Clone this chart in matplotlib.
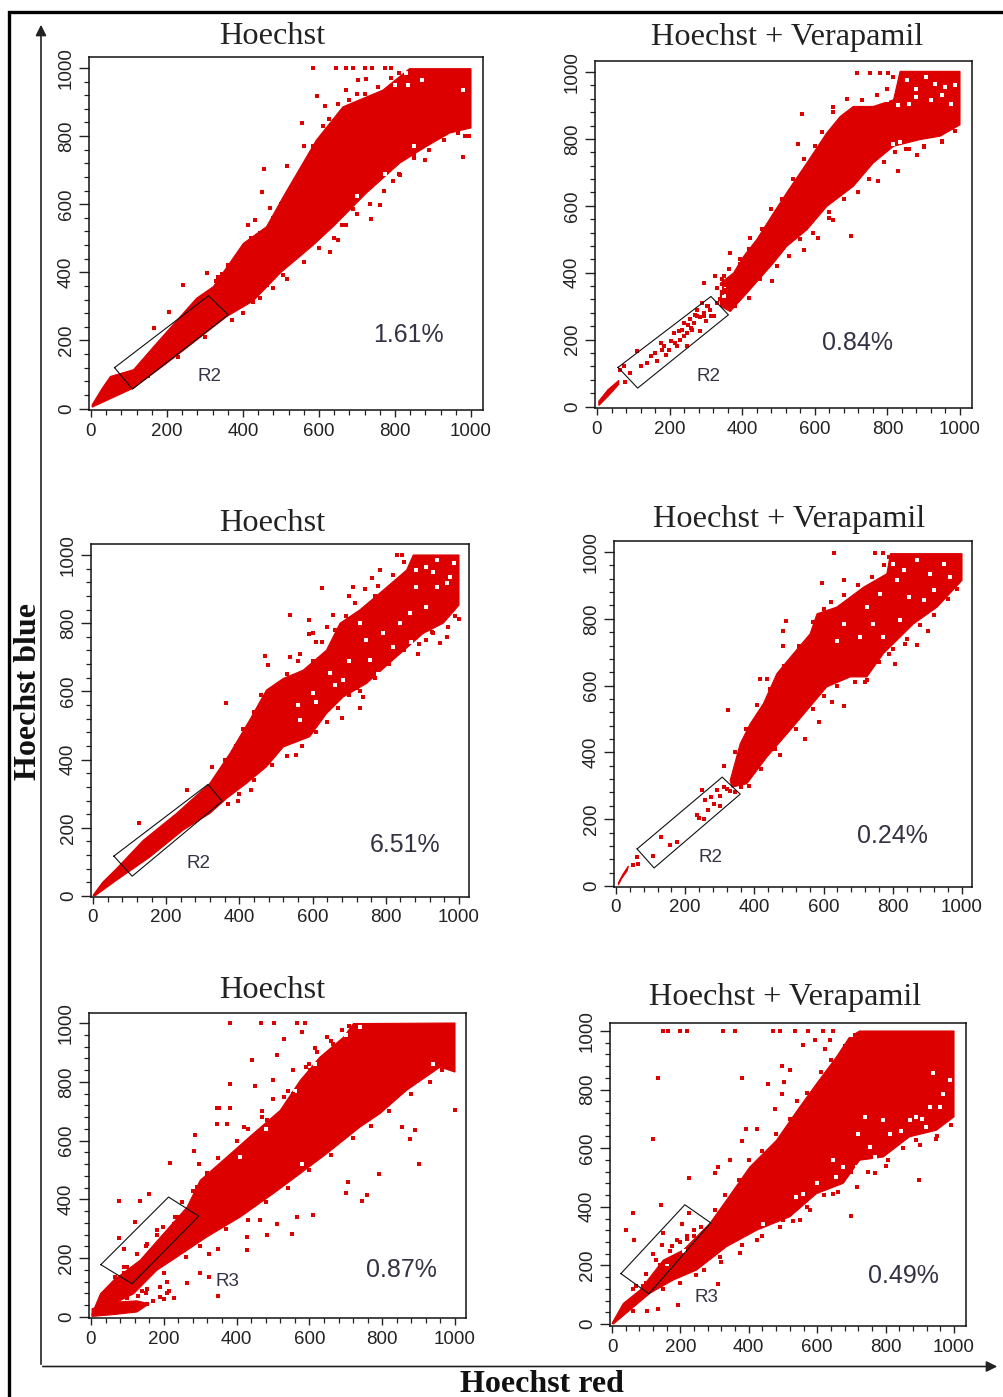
import numpy as np
import matplotlib
matplotlib.use("Agg")
import matplotlib.pyplot as plt
from matplotlib.ticker import MultipleLocator

W, H = 1004, 1397
RED = "#dc0000"
INK = "#222222"

tick_values = [0, 200, 400, 600, 800, 1000]
panel_titles = ["Hoechst", "Hoechst + Verapamil"] * 3
panel_percent = ["1.61%", "0.84%", "6.51%", "0.24%", "0.87%", "0.49%"]
panel_gate_names = ["R2", "R2", "R2", "R2", "R3", "R3"]

# ---- panel 1 ----
p1_up_x = [3, 30, 51, 112, 173, 278, 322, 401, 462, 506, 593, 663, 768, 838, 1000]
p1_up_y = [11, 60, 94, 114, 192, 324, 358, 485, 534, 622, 788, 886, 935, 998, 998]
p1_lo_x = [3, 112, 217, 357, 427, 500, 532, 585, 638, 725, 813, 883, 944, 1000]
p1_lo_y = [4, 60, 148, 270, 316, 400, 430, 480, 535, 633, 721, 770, 809, 824]
p1_pts_x = [585, 646, 672, 690, 721, 594, 554, 615, 454, 449, 515, 414, 432, 242, 305, 204, 166, 760, 736, 629, 651, 979, 996, 878, 506, 462, 427, 795, 813, 672, 703, 725, 740, 775, 790, 430, 560, 610, 700, 850, 900, 335, 380, 470, 545, 572, 660, 690,
            330, 345, 360, 390, 420, 445, 480, 500, 520, 545, 565, 585, 610, 625, 650, 680, 720, 755, 790, 810,
            150, 230, 300, 370, 400, 445, 480, 515, 560, 600, 640, 670, 700, 735, 770, 810, 850, 890, 930, 965, 985]
p1_pts_y = [1000, 1000, 1000, 1000, 1000, 917, 838, 887, 703, 635, 711, 540, 554, 363, 398, 283, 236, 598, 556, 459, 494, 738, 801, 731, 393, 363, 314, 667, 687, 936, 966, 968, 1000, 1000, 1000, 470, 772, 830, 925, 745, 792, 385, 425, 590, 650, 680, 540, 585,
            375, 395, 420, 445, 500, 515, 560, 600, 640, 680, 720, 770, 830, 850, 895, 905, 925, 945, 970, 985,
            95, 150, 210, 260, 280, 325, 355, 380, 430, 470, 500, 540, 570, 600, 640, 690, 735, 760, 790, 810, 800]
p1_gap_x = [700, 800, 750, 830, 870, 670, 640, 720, 850, 835, 775, 700, 980]
p1_gap_y = [930, 950, 960, 985, 965, 940, 500, 590, 770, 950, 690, 625, 935]
p1_gate_x = [62, 309, 361, 109, 62]
p1_gate_y = [120, 331, 275, 57, 120]

# ---- panel 2 ----
p2_up_x = [340, 376, 404, 440, 486, 528, 578, 633, 670, 706, 761, 817, 835, 1000]
p2_up_y = [369, 399, 449, 499, 578, 648, 728, 818, 867, 897, 897, 917, 1002, 1002]
p2_lo_x = [340, 367, 413, 486, 523, 578, 633, 706, 761, 817, 890, 945, 1000]
p2_lo_y = [300, 284, 339, 429, 479, 528, 598, 658, 728, 778, 798, 808, 842]
p2_low_x = [5, 30, 60, 60, 30, 5]
p2_low_y = [16, 50, 78, 66, 30, 3]
p2_pts_x = [78, 92, 138, 165, 179, 197, 211, 229, 248, 239, 266, 284, 275, 312, 330, 349, 294, 326, 367, 110, 161, 220, 64, 75, 205, 248, 294, 321, 303, 255, 270, 300, 290, 315, 190, 175, 225, 240, 258, 283, 564, 555, 649, 716, 752, 780, 803, 881, 830, 775, 651, 610, 569, 482, 422, 345, 360, 395, 330, 850, 900, 950, 640, 700,
            345, 365, 395, 420, 455, 480, 510, 540, 570, 600, 620, 650, 690, 730, 770, 800, 815, 360, 350,
            380, 420, 450, 495, 530, 560, 595, 640, 680, 720, 750, 790, 820, 860, 900, 950, 985,
            120, 150, 185, 215, 235, 250, 262, 275, 295, 305, 340]
p2_pts_y = [72, 100, 130, 135, 169, 169, 219, 199, 219, 249, 249, 269, 289, 289, 309, 349, 369, 389, 459, 166, 160, 180, 110, 122, 195, 180, 280, 270, 300, 262, 275, 255, 310, 272, 155, 190, 226, 212, 235, 225, 874, 786, 895, 997, 997, 997, 997, 753, 703, 673, 558, 503, 469, 374, 503, 340, 375, 425, 355, 770, 780, 790, 565, 510,
            380, 410, 440, 470, 530, 590, 620, 680, 740, 780, 820, 880, 920, 915, 930, 950, 985, 350, 390,
            300, 325, 380, 420, 450, 500, 520, 580, 620, 640, 680, 730, 760, 770, 775, 795, 825,
            120, 150, 180, 190, 230, 245, 230, 270, 270, 300, 320]
p2_gap_x = [855, 880, 905, 930, 960, 880, 920, 950, 985, 860, 830, 800, 815, 835, 660, 620, 700, 590, 975, 350, 340, 355]
p2_gap_y = [975, 950, 985, 965, 955, 925, 915, 930, 960, 905, 900, 915, 785, 790, 565, 520, 620, 480, 905, 330, 355, 350]
p2_gate_x = [58, 314, 362, 112, 58]
p2_gate_y = [117, 329, 274, 55, 117]

# ---- panel 3 ----
p3_up_x = [0, 27, 64, 137, 228, 319, 374, 428, 474, 520, 574, 638, 675, 729, 793, 857, 875, 1000]
p3_up_y = [2, 41, 80, 163, 242, 330, 418, 516, 604, 638, 662, 721, 800, 839, 897, 956, 1000, 1000]
p3_lo_x = [5, 64, 155, 246, 319, 365, 419, 474, 520, 592, 638, 684, 747, 830, 902, 957, 1000]
p3_lo_y = [0, 46, 114, 193, 242, 286, 330, 379, 437, 467, 535, 584, 623, 702, 770, 800, 853]
p3_pts_x = [363, 469, 479, 627, 711, 538, 591, 591, 655, 830, 843, 784, 761, 743, 126, 257, 326, 397, 433, 556, 679, 729, 738, 889, 966, 948, 1000, 911, 565, 538, 600, 700, 770, 850, 925, 610, 640, 720,
            340, 360, 390, 410, 440, 460, 530, 560, 600, 625, 660, 690, 715, 750, 780, 820, 850, 870,
            370, 400, 440, 490, 530, 570, 610, 640, 670, 700, 730, 770, 810, 850, 890, 930, 970, 990]
p3_pts_y = [567, 704, 677, 902, 907, 824, 809, 768, 824, 1000, 1000, 956, 934, 900, 215, 310, 379, 279, 310, 413, 522, 550, 584, 711, 760, 741, 811, 750, 711, 702, 770, 880, 880, 925, 775, 745, 790, 610,
            350, 400, 440, 490, 540, 590, 650, 690, 690, 745, 780, 820, 860, 850, 910, 940, 980, 960,
            270, 300, 340, 385, 410, 440, 480, 510, 550, 590, 600, 640, 680, 720, 740, 770, 790, 820]
p3_gap_x = [883, 911, 939, 966, 883, 839, 793, 747, 729, 647, 602, 565, 684, 757, 820, 911, 975, 939, 866, 985, 700, 560, 610, 660, 780, 870, 930]
p3_gap_y = [956, 966, 985, 917, 907, 800, 770, 750, 800, 653, 594, 516, 633, 692, 731, 848, 936, 907, 829, 976, 690, 560, 570, 620, 650, 745, 950]
p3_gate_x = [57, 314, 353, 107, 57]
p3_gate_y = [117, 327, 278, 58, 117]

# ---- panel 4 ----
p4_up_x = [330, 359, 388, 426, 465, 513, 561, 581, 638, 716, 783, 793, 1000]
p4_up_y = [316, 426, 486, 546, 636, 696, 755, 815, 835, 895, 935, 995, 995]
p4_lo_x = [335, 378, 436, 503, 552, 609, 677, 725, 773, 860, 928, 1000]
p4_lo_y = [296, 306, 386, 466, 526, 596, 626, 626, 696, 785, 835, 915]
p4_low_x = [7, 20, 36, 32, 16, 7]
p4_low_y = [10, 35, 60, 45, 22, 3]
p4_pts_x = [50, 65, 62, 106, 129, 156, 176, 233, 253, 267, 282, 257, 248, 291, 301, 311, 325, 311, 320, 631, 749, 773, 595, 658, 492, 484, 484, 415, 436, 407, 474, 547, 588, 658, 624, 805, 870, 902, 836, 725, 788, 711, 240, 275, 300, 330, 345, 360,
            345, 375, 405, 445, 485, 530, 570, 600, 620, 660, 700, 740, 775, 790,
            385, 420, 460, 520, 570, 600, 640, 690, 720, 760, 800, 840, 880, 920, 960, 985]
p4_pts_y = [62, 67, 87, 89, 147, 122, 132, 212, 202, 227, 247, 256, 286, 286, 241, 296, 526, 358, 291, 998, 998, 998, 907, 915, 792, 762, 719, 619, 619, 541, 391, 441, 491, 538, 551, 666, 722, 763, 725, 618, 696, 636, 205, 265, 270, 285, 280, 295,
            400, 470, 500, 590, 660, 720, 790, 830, 850, 870, 900, 925, 960, 985,
            300, 350, 410, 470, 530, 570, 600, 610, 610, 670, 710, 740, 780, 810, 860, 890]
p4_gap_x = [802, 831, 870, 947, 908, 812, 966, 725, 773, 744, 658, 638, 706, 846, 889, 764, 918, 822]
p4_gap_y = [965, 945, 975, 965, 935, 915, 925, 835, 745, 785, 785, 735, 745, 865, 855, 875, 885, 795]
p4_gate_x = [61, 307, 359, 110, 61]
p4_gate_y = [111, 326, 275, 54, 111]

# ---- panel 5 ----
p5_up_x = [3, 26, 62, 135, 199, 264, 300, 373, 446, 520, 575, 629, 694, 721, 1000]
p5_up_y = [11, 79, 125, 193, 283, 374, 465, 544, 624, 703, 805, 884, 952, 998, 1000]
p5_lo_x = [3, 62, 117, 181, 236, 318, 410, 501, 575, 648, 739, 794, 867, 959, 1000]
p5_lo_y = [2, 45, 79, 159, 204, 272, 340, 420, 488, 556, 646, 692, 771, 850, 833]
p5_low_x = [3, 60, 126, 160, 126, 60, 3]
p5_low_y = [28, 50, 55, 45, 17, 8, 2]
p5_pts_x = [382, 467, 504, 565, 588, 442, 382, 451, 346, 352, 382, 373, 346, 287, 282, 218, 296, 76, 135, 160, 78, 122, 90, 511, 529, 579, 616, 501, 556, 1000, 890, 876, 902, 854, 790, 707, 701, 758, 744, 611, 552, 565, 511, 465, 428, 483, 428, 350, 323, 300, 323, 350, 264, 209, 227, 190, 190, 154, 154, 392, 355, 318, 291, 419, 483, 538, 556, 602, 648, 666, 199, 227, 236, 181, 154, 126, 90, 67, 147, 117, 172, 240, 255, 270, 530, 600, 470,
            100, 150, 180, 230, 250, 280, 320, 350, 400, 430, 470, 500, 540, 590, 620, 660, 690, 710,
            140, 200, 260, 300, 370, 430, 480, 540, 600, 660, 720, 770, 820, 880, 930, 965, 985,
            200, 210, 170, 130, 100, 150, 215, 90, 110, 60, 70, 130, 80]
p5_pts_y = [1000, 1000, 1000, 1000, 1000, 873, 794, 785, 712, 712, 712, 658, 658, 618, 563, 525, 519, 395, 395, 420, 270, 323, 232, 890, 947, 969, 916, 805, 839, 703, 637, 604, 519, 646, 485, 459, 423, 414, 395, 346, 283, 340, 317, 329, 272, 278, 227, 232, 215, 150, 136, 71, 116, 119, 66, 68, 102, 96, 45, 556, 499, 476, 442, 646, 669, 714, 760, 839, 952, 930, 306, 317, 340, 295, 249, 215, 170, 136, 193, 147, 215, 290, 325, 360, 750, 860, 700,
            170, 240, 280, 340, 390, 430, 490, 540, 600, 640, 680, 740, 770, 850, 900, 940, 975, 990,
            90, 150, 205, 240, 300, 330, 390, 440, 500, 550, 610, 650, 700, 760, 800, 840, 870,
            60, 80, 55, 70, 65, 80, 90, 150, 120, 110, 130, 160, 90]
p5_gap_x = [700, 740, 615, 560, 480, 410, 820, 900, 940, 580]
p5_gap_y = [960, 985, 860, 770, 640, 545, 690, 790, 860, 520]
p5_gate_x = [27, 213, 296, 113, 27]
p5_gate_y = [178, 408, 343, 113, 178]

# ---- panel 6 ----
p6_up_x = [0, 33, 82, 150, 208, 286, 335, 403, 481, 549, 598, 656, 695, 724, 1000]
p6_up_y = [2, 70, 116, 218, 252, 343, 423, 536, 627, 741, 820, 911, 980, 1000, 1000]
p6_lo_x = [4, 111, 179, 247, 335, 423, 520, 598, 676, 724, 793, 870, 948, 1000]
p6_lo_y = [0, 105, 150, 184, 264, 320, 366, 445, 480, 559, 570, 639, 661, 707]
p6_pts_x = [150, 165, 199, 218, 325, 359, 471, 490, 535, 573, 617, 647, 135, 379, 119, 226, 62, 142, 40, 65, 700, 898, 311, 247, 192, 135, 103, 497, 498, 457, 502, 520, 476, 311, 301, 345, 393, 423, 379, 559, 593, 637, 622, 500, 549, 578, 647, 715, 768, 807, 890, 948, 978, 374, 423, 315, 150, 175, 205, 225, 240, 260, 120, 145, 190,
            60, 100, 130, 170, 220, 260, 300, 330, 370, 400, 440, 480, 520, 540, 570, 610, 640, 680, 710,
            60, 150, 200, 270, 320, 380, 440, 490, 530, 570, 620, 660, 700, 750, 800, 850, 900, 950, 990,
            100, 130, 160, 180, 200, 220, 240, 260, 90, 140, 70]
p6_pts_y = [1000, 1000, 1000, 1000, 1000, 1000, 1000, 1000, 1000, 1000, 1000, 1000, 841, 841, 630, 499, 380, 406, 320, 286, 369, 491, 136, 167, 64, 50, 44, 880, 786, 820, 826, 868, 735, 536, 517, 559, 665, 667, 624, 951, 968, 968, 940, 355, 355, 389, 445, 468, 514, 559, 627, 633, 695, 241, 286, 230, 310, 265, 340, 380, 300, 330, 240, 270, 285,
            120, 170, 220, 250, 290, 330, 390, 440, 490, 560, 590, 650, 700, 760, 790, 860, 900, 950, 985,
            45, 120, 140, 185, 210, 270, 300, 330, 350, 400, 440, 450, 520, 520, 540, 600, 610, 640, 680,
            140, 165, 210, 230, 280, 300, 320, 280, 130, 200, 130]
p6_gap_x = [539, 598, 656, 715, 754, 812, 870, 929, 968, 939, 987, 676, 793, 890, 919, 958, 442, 559, 647, 720, 739, 770, 845, 905, 700, 210, 160, 130]
p6_gap_y = [434, 480, 502, 536, 605, 650, 695, 741, 786, 855, 832, 536, 695, 707, 673, 741, 343, 445, 559, 650, 707, 570, 660, 700, 985, 250, 205, 165]
p6_gate_x = [26, 213, 289, 108, 26]
p6_gate_y = [172, 407, 345, 103, 172]

# pixel layout: box l, r, t, b and pixel position of 0 and 1000 on each scale
boxes = [(89, 483, 57, 410, 91, 471, 408.5, 68),
         (595, 972, 61, 408, 597, 960, 406.5, 72),
         (91, 469, 544, 897, 93, 459, 896, 555),
         (614, 972, 541, 887, 616, 962, 886, 552),
         (89, 466, 1013, 1318, 91, 455, 1317, 1023),
         (610, 966, 1023, 1326, 612, 954, 1324, 1031)]
title_xy = [(272, 36), (787, 38), (272, 523), (789, 519), (272, 991), (785, 998)]
pct_xy = [(373, 335), (822, 343), (370, 845), (857, 836), (366, 1270), (868, 1276)]
gate_xy = [(198, 376), (696, 376), (187, 863), (698, 857), (216, 1282), (695, 1297)]

bands = [
    [(p1_up_x, p1_up_y, p1_lo_x, p1_lo_y)],
    [(p2_up_x, p2_up_y, p2_lo_x, p2_lo_y), (p2_low_x, p2_low_y, [], [])],
    [(p3_up_x, p3_up_y, p3_lo_x, p3_lo_y)],
    [(p4_up_x, p4_up_y, p4_lo_x, p4_lo_y), (p4_low_x, p4_low_y, [], [])],
    [(p5_up_x, p5_up_y, p5_lo_x, p5_lo_y), (p5_low_x, p5_low_y, [], [])],
    [(p6_up_x, p6_up_y, p6_lo_x, p6_lo_y)],
]
points = [(p1_pts_x, p1_pts_y), (p2_pts_x, p2_pts_y), (p3_pts_x, p3_pts_y),
          (p4_pts_x, p4_pts_y), (p5_pts_x, p5_pts_y), (p6_pts_x, p6_pts_y)]
gaps = [(p1_gap_x, p1_gap_y), (p2_gap_x, p2_gap_y), (p3_gap_x, p3_gap_y),
        (p4_gap_x, p4_gap_y), (p5_gap_x, p5_gap_y), (p6_gap_x, p6_gap_y)]
gates = [(p1_gate_x, p1_gate_y), (p2_gate_x, p2_gate_y), (p3_gate_x, p3_gate_y),
         (p4_gate_x, p4_gate_y), (p5_gate_x, p5_gate_y), (p6_gate_x, p6_gate_y)]

fig = plt.figure(figsize=(W / 100, H / 100), dpi=100, facecolor="white")
SANS = "Liberation Sans"
SERIF = "Liberation Serif"


def fx(p):
    return p / W


def fy(p):
    return 1 - p / H


for i, (l, r, t, b, x0, x1, y0, y1) in enumerate(boxes):
    ax = fig.add_axes([fx(l), fy(b), (r - l) / W, (b - t) / H])
    sx = 1000 / (x1 - x0)
    sy = 1000 / (y0 - y1)
    ax.set_xlim((l - x0) * sx, (r - x0) * sx)
    ax.set_ylim((y0 - b) * sy, (y0 - t) * sy)
    for xu, yu, xd, yd in bands[i]:
        ax.fill(list(xu) + list(xd)[::-1], list(yu) + list(yd)[::-1],
                facecolor=RED, edgecolor=RED, lw=0.8, zorder=2)
    ax.scatter(gaps[i][0], gaps[i][1], marker="s", s=5.0, c="white",
               linewidths=0, zorder=3)
    ax.scatter(points[i][0], points[i][1], marker="s", s=6.0, c=RED,
               linewidths=0, zorder=4)
    ax.plot(gates[i][0], gates[i][1], color="#111111", lw=0.8, zorder=5)
    ax.set_xticks(tick_values)
    ax.set_yticks(tick_values)
    ax.xaxis.set_minor_locator(MultipleLocator(40))
    ax.yaxis.set_minor_locator(MultipleLocator(40))
    ax.tick_params(axis="x", which="major", length=5, width=1.0, pad=4,
                   labelsize=13.5, colors=INK)
    ax.tick_params(axis="x", which="minor", length=3.4, width=0.9, colors=INK)
    ax.tick_params(axis="y", which="major", length=7, width=1.0, pad=3,
                   labelsize=13.5, colors=INK)
    ax.tick_params(axis="y", which="minor", length=3.4, width=0.9, colors=INK)
    for lab in ax.get_xticklabels():
        lab.set_family(SANS)
    for lab in ax.get_yticklabels():
        lab.set_family(SANS)
        lab.set_rotation(90)
        lab.set_va("center")
    for s in ax.spines.values():
        s.set_linewidth(1.1)
        s.set_color("#111111")
    size = 23.3 if i % 2 == 0 else 23.2
    fig.text(fx(title_xy[i][0]), fy(title_xy[i][1]), panel_titles[i], family=SERIF,
             fontsize=size, ha="center", va="center", color=INK)
    fig.text(fx(pct_xy[i][0]), fy(pct_xy[i][1]), panel_percent[i], family=SANS,
             fontsize=18, ha="left", va="center", color="#333344")
    fig.text(fx(gate_xy[i][0]), fy(gate_xy[i][1]), panel_gate_names[i], family=SANS,
             fontsize=13.5, ha="left", va="center", color="#333344")

# outer frame and the shared arrow axes, on a full-figure overlay in pixels
ov = fig.add_axes([0, 0, 1, 1], facecolor="none", zorder=10)
ov.set_xlim(0, W)
ov.set_ylim(H, 0)
ov.axis("off")
ov.plot([9.5, 9.5, W], [H, 11.5, 11.5], color="black", lw=2.4, solid_joinstyle="miter")
ov.annotate("", xy=(41, 22), xytext=(41, 1367),
            arrowprops=dict(arrowstyle="-|>", color="#222222", lw=1.2, mutation_scale=16))
ov.annotate("", xy=(1000, 1366.5), xytext=(40, 1366.5),
            arrowprops=dict(arrowstyle="-|>", color="#222222", lw=1.2, mutation_scale=16))
ov.text(29, 691, "Hoechst blue", family=SERIF, weight="bold", fontsize=23,
        rotation=90, ha="center", va="center", color="#111111")
ov.text(542, 1385, "Hoechst red", family=SERIF, weight="bold", fontsize=23,
        ha="center", va="center", color="#111111")

fig.savefig("out.png", dpi=100, facecolor="white")
